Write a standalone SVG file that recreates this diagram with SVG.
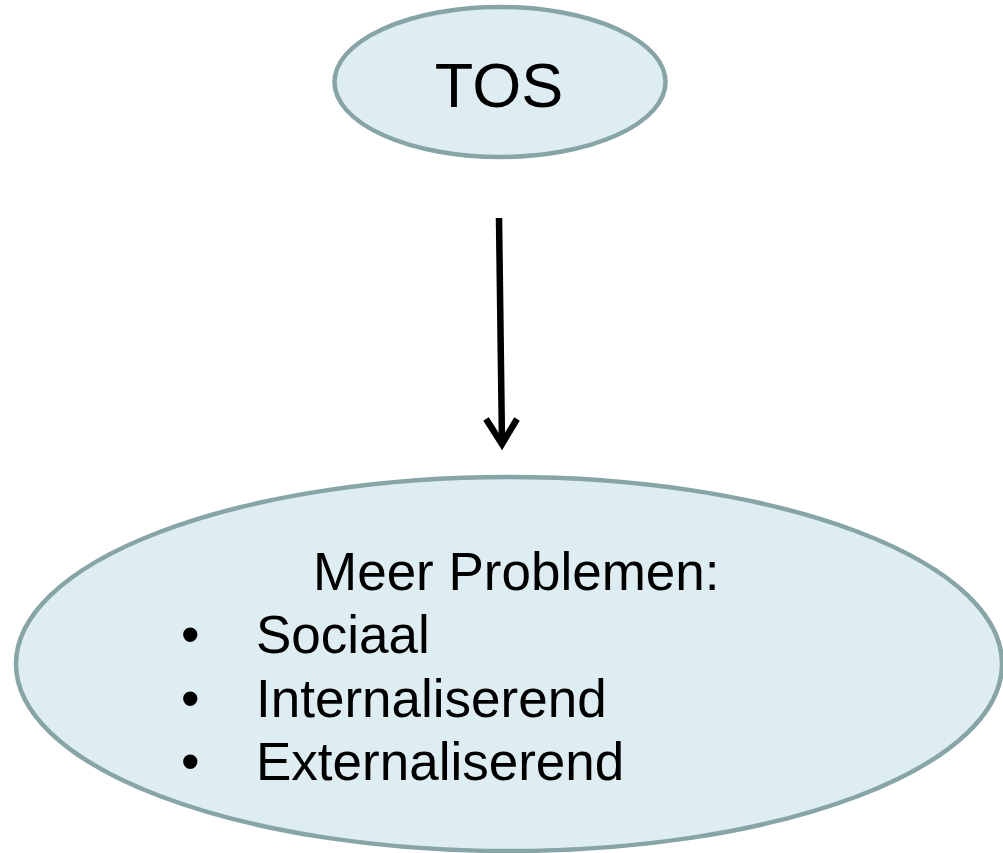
<svg xmlns="http://www.w3.org/2000/svg" width="1003" height="853" viewBox="0 0 1003 853">
<style>
.node{fill:#deedf1;stroke:#87a4a6;stroke-width:4.5}
.t{font-family:"Liberation Sans",Arial,sans-serif;fill:#000}
.conn{stroke:#000;stroke-width:6.5;fill:none}
</style>
<rect width="1003" height="853" fill="#fff"/>
<g id="tos">
<ellipse class="node" cx="500" cy="82" rx="165.5" ry="75"/>
<text class="t" x="499" y="107" font-size="63" text-anchor="middle">TOS</text>
</g>
<g id="connectors">
<line class="conn" x1="499" y1="218" x2="502" y2="443"/>
<polyline class="conn" points="486,419 502,444 517,419" stroke-linejoin="miter"/>
</g>
<g id="problemen">
<ellipse class="node" cx="509" cy="664" rx="493" ry="187"/>
<text class="t" x="313" y="590" font-size="53">Meer Problemen:</text>
<text class="t" x="181" y="653" font-size="53">•</text>
<text class="t" x="256" y="653" font-size="53">Sociaal</text>
<text class="t" x="181" y="717" font-size="53">•</text>
<text class="t" x="256" y="717" font-size="53">Internaliserend</text>
<text class="t" x="181" y="780" font-size="53">•</text>
<text class="t" x="256" y="780" font-size="53">Externaliserend</text>
</g>
</svg>
